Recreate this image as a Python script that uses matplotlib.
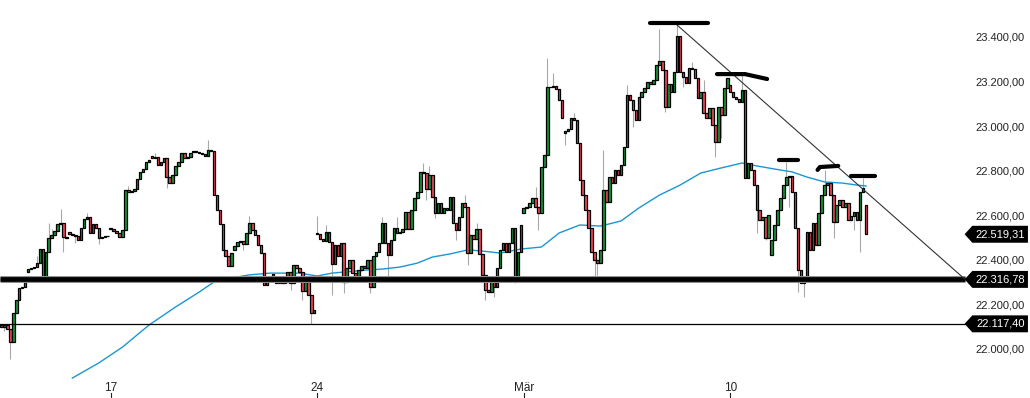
import matplotlib.pyplot as plt
import numpy as np
from matplotlib.patches import Polygon
from matplotlib.transforms import blended_transform_factory

# hourly candles, one row per trading day (first and last day are partial)
days = ["12.02", "13.02", "14.02", "17.02", "18.02", "19.02", "20.02", "21.02",
        "24.02", "25.02", "26.02", "27.02", "28.02", "03.03", "04.03", "05.03",
        "06.03", "07.03", "10.03", "11.03", "12.03", "13.03"]

day_closes = [
    [22103, 22112, 22094, 22036, 22166, 22224, 22278, 22283, 22305],
    [22363, 22368, 22372, 22390, 22453, 22328, 22440, 22503, 22516, 22534, 22565, 22570, 22507, 22503],
    [22520, 22516, 22512, 22494, 22547, 22588, 22597, 22525, 22565, 22547, 22503, 22507, 22512, 22512],
    [22543, 22534, 22525, 22507, 22538, 22718, 22709, 22713, 22722, 22767, 22799, 22812, 22844, 22853],
    [22861, 22866, 22830, 22844, 22861, 22776, 22749, 22785, 22826, 22844, 22884, 22861, 22866, 22884],
    [22893, 22888, 22884, 22879, 22870, 22897, 22893, 22695, 22628, 22565, 22449, 22422, 22377, 22435],
    [22467, 22485, 22489, 22476, 22525, 22570, 22538, 22516, 22471, 22435, 22292, 22314, 22319, 22341],
    [22301, 22328, 22301, 22305, 22350, 22301, 22381, 22368, 22350, 22265, 22305, 22247, 22166, 22180],
    [22520, 22498, 22489, 22529, 22485, 22386, 22471, 22422, 22480, 22305, 22368, 22404, 22345, 22314],
    [22359, 22377, 22368, 22404, 22283, 22422, 22440, 22480, 22570, 22480, 22426, 22494, 22547, 22525],
    [22529, 22543, 22619, 22543, 22628, 22682, 22709, 22799, 22794, 22722, 22785, 22687, 22615, 22660],
    [22615, 22637, 22628, 22687, 22570, 22538, 22597, 22660, 22642, 22435, 22516, 22498, 22543, 22431],
    [22337, 22269, 22260, 22314, 22283, 22368, 22449, 22480, 22440, 22480, 22547, 22314, 22440, 22561],
    [22637, 22642, 22660, 22682, 22642, 22615, 22821, 22875, 23180, 23180, 23185, 23171, 23122, 23041],
    [22983, 22992, 23041, 23032, 22929, 22763, 22695, 22628, 22547, 22440, 22404, 22390, 22449, 22718],
    [22664, 22776, 22749, 22808, 22785, 22830, 22911, 23144, 23122, 23077, 23032, 23135, 23158, 23176],
    [23203, 23194, 23211, 23279, 23297, 23256, 23090, 23194, 23158, 23247, 23409, 23247, 23225, 23198],
    [23265, 23261, 23220, 23131, 23158, 23063, 23041, 23086, 23010, 22933, 23090, 23054, 23176, 23220],
    [23158, 23135, 23126, 23113, 23167, 22772, 22839, 22808, 22740, 22628, 22583, 22597, 22503, 22606],
    [22494, 22561, 22628, 22682, 22740, 22776, 22781, 22709, 22547, 22359, 22301, 22323, 22529, 22449],
    [22570, 22471, 22615, 22695, 22740, 22749, 22695, 22574, 22651, 22673, 22642, 22660, 22583, 22601],
    [22619, 22583, 22709, 22727, 22519.31],
]

# opens that differ from the previous close (overnight gaps)
open_gaps = {("12.02", 0): 22110, ("13.02", 0): 22350, ("14.02", 0): 22529,
             ("17.02", 0): 22547, ("18.02", 0): 22870, ("19.02", 0): 22888,
             ("20.02", 0): 22449, ("21.02", 0): 22323, ("24.02", 0): 22525,
             ("03.03", 0): 22615, ("04.03", 0): 22974, ("10.03", 0): 23189,
             ("11.03", 0): 22426, ("13.03", 4): 22651}

wick_high = {("13.02", 3): 22420, ("13.02", 7): 22570, ("13.02", 8): 22545, ("13.02", 11): 22633,
             ("14.02", 6): 22615, ("17.02", 6): 22735, ("18.02", 1): 22885, ("19.02", 5): 22942,
             ("20.02", 5): 22600, ("24.02", 0): 22601, ("24.02", 3): 22560, ("25.02", 8): 22597,
             ("25.02", 13): 22597, ("26.02", 8): 22839, ("26.02", 10): 22826, ("27.02", 8): 22695,
             ("27.02", 12): 22570, ("03.03", 4): 22731, ("03.03", 8): 23310, ("03.03", 10): 23243,
             ("04.03", 3): 23063, ("04.03", 13): 22897, ("05.03", 7): 23189, ("06.03", 4): 23440,
             ("06.03", 10): 23458, ("06.03", 11): 23292, ("07.03", 1): 23292, ("07.03", 5): 23211,
             ("10.03", 4): 23234, ("11.03", 5): 22844, ("12.03", 4): 22808, ("13.03", 3): 22772}

wick_low = {("12.02", 1): 22085, ("12.02", 3): 21960, ("13.02", 5): 22305, ("13.02", 12): 22440,
            ("14.02", 2): 22480, ("14.02", 10): 22476, ("18.02", 5): 22727, ("20.02", 3): 22450,
            ("21.02", 5): 22269, ("21.02", 9): 22224, ("21.02", 12): 22117, ("24.02", 5): 22247,
            ("24.02", 9): 22256, ("25.02", 4): 22256, ("25.02", 10): 22332, ("26.02", 9): 22673,
            ("26.02", 12): 22592, ("27.02", 5): 22494, ("27.02", 9): 22381, ("28.02", 1): 22224,
            ("28.02", 4): 22238, ("28.02", 11): 22300, ("03.03", 5): 22538, ("04.03", 0): 22920,
            ("04.03", 10): 22328, ("04.03", 11): 22335, ("05.03", 9): 23000, ("06.03", 6): 23068,
            ("06.03", 12): 23180, ("07.03", 9): 22866, ("07.03", 11): 22951, ("10.03", 6): 22933,
            ("10.03", 9): 22525, ("10.03", 12): 22494, ("11.03", 6): 22642, ("11.03", 9): 22260,
            ("11.03", 11): 22238, ("12.03", 7): 22503, ("13.03", 0): 22538, ("13.03", 2): 22440}

# moving average (candle index, value)
ma_idx = [24, 33, 41, 50, 59, 67, 72, 78, 84, 91, 101, 107, 112, 124, 129, 135, 141, 146,
          152, 158, 163, 169, 176, 183, 189, 196, 203, 210, 216, 223, 230, 237, 244, 251,
          256, 262, 268, 273, 279, 285, 290, 293]
ma_val = [21874, 21942, 22013, 22112, 22193, 22260, 22305, 22323, 22337, 22345, 22345, 22332,
          22345, 22359, 22363, 22372, 22390, 22417, 22431, 22449, 22444, 22435, 22453, 22462,
          22525, 22561, 22556, 22579, 22637, 22695, 22740, 22794, 22817, 22839, 22826, 22812,
          22799, 22776, 22754, 22749, 22740, 22736]

support = 22316.78
lower_level = 22117.40
y_ticks = [22000, 22200, 22400, 22600, 22800, 23000, 23200, 23400]
x_tick_days = ["17.02", "24.02", "03.03", "10.03"]
x_tick_labels = ["17", "24", "Mär", "10"]

# hand drawn resistance marks (candle index, price)
marks = [
    ([219.8, 239.5], [23467, 23467]),
    ([242.5, 252.0, 259.5], [23238, 23238, 23216]),
    ([263.6, 270.0], [22853, 22853]),
    ([276.6, 277.4, 283.6], [22808, 22821, 22826]),
    ([288.0, 296.1], [22781, 22781]),
]

o, h, l, c = [], [], [], []
day_start = {}
prev = None
for d, vals in zip(days, day_closes):
    day_start[d] = len(c)
    for j, close in enumerate(vals):
        op = open_gaps.get((d, j), prev)
        o.append(op)
        c.append(close)
        h.append(max(op, close, wick_high.get((d, j), close)))
        l.append(min(op, close, wick_low.get((d, j), close)))
        prev = close
o, h, l, c = map(np.array, (o, h, l, c))
x = np.arange(len(c))

x_min, x_max = -0.508, 348.6
end_idx = 326.6

fig = plt.figure(figsize=(10.30, 3.98), dpi=100)
ax = fig.add_axes([0, 0, 1, 1])
ax.set_xlim(x_min, x_max)
ax.set_ylim(21784.6, 23570.5)
ax.axis('off')

ax.vlines(x, l, h, color='#a8a8a8', lw=0.8, zorder=1)
ax.plot(ma_idx, ma_val, color='#1b96d4', lw=1.0, zorder=2)

up = c >= o
ax.bar(x, np.abs(c - o), bottom=np.minimum(o, c), width=0.85,
       color=np.where(up, '#17933a', '#ef4656'), edgecolor='black',
       linewidth=0.9, zorder=3)

# support lines
ax.plot([x_min, end_idx], [support, support], color='#8c8c8c', lw=5.0,
        solid_capstyle='butt', zorder=4)
ax.plot([x_min, end_idx], [support, support], color='black', lw=3.4,
        solid_capstyle='butt', zorder=4)
ax.plot([x_min, end_idx], [lower_level, lower_level], color='black', lw=0.9, zorder=4)

# falling trend line from the top
top_i = int(np.argmax(h))
ax.plot([top_i, end_idx], [h[top_i], support], color='#333333', lw=0.8, zorder=4)

for mx, my in marks:
    ax.plot(mx, my, color='black', lw=3.0, solid_capstyle='round', zorder=5)

# price axis on the right
ytr = blended_transform_factory(ax.transAxes, ax.transData)


def de_fmt(v):
    return f"{v:,.2f}".replace(",", "X").replace(".", ",").replace("X", ".")


for v in y_ticks:
    ax.text(0.995, v, de_fmt(v), transform=ytr, ha='right', va='center',
            fontsize=8, color='#222222', family=['Liberation Sans', 'DejaVu Sans'])

half = 38
for v in [c[-1], support, lower_level]:
    poly = Polygon([(0.9365, v), (0.944, v + half), (0.998, v + half),
                    (0.998, v - half), (0.944, v - half)], closed=True,
                   transform=ytr, facecolor='black', edgecolor='none', zorder=6)
    ax.add_patch(poly)
    ax.text(0.9715, v, de_fmt(v), transform=ytr, ha='center', va='center',
            fontsize=8, color='white', zorder=7, family=['Liberation Sans', 'DejaVu Sans'])

# date axis at the bottom
xtr = blended_transform_factory(ax.transData, ax.transAxes)
for d, lab in zip(x_tick_days, x_tick_labels):
    xi = day_start[d]
    ax.text(xi, 0.026, lab, transform=xtr, ha='center', va='center', fontsize=8.5,
            color='#222222', family=['Liberation Sans Narrow', 'Liberation Sans', 'DejaVu Sans'])
    ax.plot([xi, xi], [0.0, 0.013], transform=xtr, color='#222222', lw=0.8, clip_on=False)

fig.savefig('out.png', dpi=100)
